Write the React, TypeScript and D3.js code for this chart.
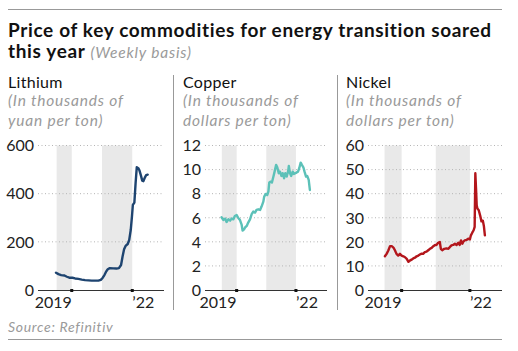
import { useEffect, useRef } from 'react';
import * as d3 from 'd3';

// decimal year, value
const LITHIUM: [number, number][] = [
  [2019.48, 72], [2019.56, 66], [2019.65, 62], [2019.76, 60], [2019.84, 55], [2019.92, 51],
  [2020.02, 51], [2020.11, 48], [2020.22, 46], [2020.33, 43], [2020.44, 41], [2020.55, 40],
  [2020.66, 39], [2020.77, 39], [2020.88, 39], [2020.96, 42], [2021.02, 50], [2021.08, 62],
  [2021.13, 75], [2021.19, 86], [2021.26, 91], [2021.37, 90], [2021.48, 89], [2021.56, 91],
  [2021.63, 104], [2021.68, 139], [2021.73, 169], [2021.78, 183], [2021.85, 191], [2021.9, 208],
  [2021.95, 249], [2021.99, 305], [2022.02, 353], [2022.07, 363], [2022.11, 443], [2022.15, 510],
  [2022.2, 506], [2022.24, 496], [2022.29, 474], [2022.33, 454], [2022.37, 452], [2022.42, 468],
  [2022.46, 477], [2022.51, 479],
];

const COPPER: [number, number][] = [
  [2019.49, 6.04], [2019.55, 5.82], [2019.61, 5.93], [2019.66, 5.65], [2019.72, 5.87], [2019.78, 5.76],
  [2019.83, 5.93], [2019.89, 5.87], [2019.94, 6.15], [2020.0, 6.23], [2020.06, 5.96], [2020.11, 5.82],
  [2020.17, 5.4], [2020.2, 4.93], [2020.25, 5.04], [2020.29, 5.21], [2020.34, 5.32], [2020.39, 5.6],
  [2020.45, 5.87], [2020.51, 6.32], [2020.56, 6.51], [2020.62, 6.43], [2020.67, 6.65], [2020.73, 6.7],
  [2020.79, 6.65], [2020.84, 6.93], [2020.9, 7.34], [2020.93, 7.76], [2020.98, 7.98], [2021.03, 7.89],
  [2021.07, 8.17], [2021.1, 8.92], [2021.15, 9.0], [2021.19, 8.92], [2021.24, 9.42], [2021.28, 9.83],
  [2021.33, 10.39], [2021.37, 10.19], [2021.42, 9.7], [2021.46, 9.83], [2021.51, 9.47], [2021.55, 9.7],
  [2021.6, 9.28], [2021.64, 9.7], [2021.69, 9.42], [2021.74, 9.92], [2021.76, 10.3], [2021.8, 9.7],
  [2021.84, 9.47], [2021.89, 9.83], [2021.93, 9.64], [2021.98, 9.7], [2022.02, 9.75], [2022.07, 9.83],
  [2022.11, 10.11], [2022.16, 10.58], [2022.2, 10.39], [2022.25, 10.19], [2022.29, 9.83], [2022.34, 9.42],
  [2022.38, 9.47], [2022.43, 9.14], [2022.47, 8.31],
];

const NICKEL: [number, number][] = [
  [2019.51, 14.0], [2019.56, 15.0], [2019.61, 16.4], [2019.66, 18.2], [2019.71, 18.2], [2019.76, 17.6],
  [2019.8, 16.6], [2019.85, 15.0], [2019.9, 14.3], [2019.95, 15.0], [2020.0, 14.3], [2020.05, 14.0],
  [2020.1, 13.6], [2020.15, 12.9], [2020.2, 11.7], [2020.24, 12.2], [2020.29, 12.6], [2020.34, 13.1],
  [2020.39, 13.4], [2020.44, 14.0], [2020.49, 14.3], [2020.54, 14.8], [2020.59, 15.1], [2020.63, 15.0],
  [2020.68, 15.7], [2020.73, 15.9], [2020.78, 16.5], [2020.83, 17.1], [2020.88, 17.5], [2020.93, 18.2],
  [2020.98, 18.7], [2021.02, 18.7], [2021.07, 19.6], [2021.12, 19.9], [2021.15, 17.1], [2021.19, 16.5],
  [2021.25, 17.1], [2021.31, 17.3], [2021.37, 17.1], [2021.41, 17.8], [2021.46, 18.5], [2021.51, 18.7],
  [2021.56, 19.2], [2021.61, 18.7], [2021.66, 19.6], [2021.7, 18.7], [2021.74, 20.6], [2021.78, 19.2],
  [2021.81, 20.1], [2021.85, 20.6], [2021.9, 20.8], [2021.95, 21.3], [2022.0, 21.0], [2022.03, 22.7],
  [2022.07, 23.8], [2022.11, 24.8], [2022.14, 26.2], [2022.16, 48.5], [2022.18, 42.2], [2022.2, 35.2],
  [2022.22, 33.8], [2022.26, 33.1], [2022.3, 31.0], [2022.34, 28.5], [2022.38, 28.8], [2022.41, 26.6],
  [2022.44, 22.7],
];

const SHADED_YEARS: [number, number][] = [[2019.5, 2020], [2021, 2022]];
const TICK_YEARS = [2020, 2022];

interface Panel {
  title: string;
  unit: string[];
  data: [number, number][];
  yTicks: number[];
  color: string;
  titleX: number;
  x0: number; // pixel for 2019
  x1: number; // pixel for 2023
  gridL: number;
  gridR: number;
}

const PANELS: Panel[] = [
  {
    title: 'Lithium', unit: ['(In thousands of', 'yuan per ton)'], data: LITHIUM,
    yTicks: [0, 200, 400, 600], color: '#1e4470', titleX: 8,
    x0: 41.5, x1: 162.5, gridL: 38, gridR: 164,
  },
  {
    title: 'Copper', unit: ['(In thousands of', 'dollars per ton)'], data: COPPER,
    yTicks: [0, 2, 4, 6, 8, 10, 12], color: '#5cc1b8', titleX: 183,
    x0: 207, x1: 325.6, gridL: 205, gridR: 327,
  },
  {
    title: 'Nickel', unit: ['(In thousands of', 'dollars per ton)'], data: NICKEL,
    yTicks: [0, 10, 20, 30, 40, 50, 60], color: '#b3161c', titleX: 346,
    x0: 367.5, x1: 504, gridL: 368, gridR: 502,
  },
];

const FONT = 'Lato, "Noto Sans", sans-serif';
const W = 518;
const H = 351;
const PLOT_TOP = 145.5;
const PLOT_BOTTOM = 290;

export default function App() {
  const svgRef = useRef<SVGSVGElement>(null);

  useEffect(() => {
    if (!svgRef.current) return;
    const svg = d3.select(svgRef.current);
    svg.selectAll('*').remove();
    svg.style('font-family', FONT);

    // rules
    svg.append('line').attr('x1', 8).attr('x2', 502).attr('y1', 9.5).attr('y2', 9.5)
      .attr('stroke', '#999').attr('stroke-width', 1);
    svg.append('line').attr('x1', 8).attr('x2', 502).attr('y1', 339.5).attr('y2', 339.5)
      .attr('stroke', '#999').attr('stroke-width', 1);

    // title
    svg.append('text').attr('x', 8).attr('y', 37)
      .attr('font-size', 19).attr('font-weight', 700).attr('fill', '#111')
      .attr('letter-spacing', 0.65)
      .text('Price of key commodities for energy transition soared');
    const t2 = svg.append('text').attr('x', 8).attr('y', 58)
      .attr('font-size', 19).attr('font-weight', 700).attr('fill', '#111')
      .attr('letter-spacing', 0.65);
    t2.append('tspan').text('this year ');
    t2.append('tspan').attr('font-weight', 400).attr('font-style', 'italic')
      .attr('font-size', 15.5).attr('letter-spacing', 0.8).attr('fill', '#9a9a9a').text('(Weekly basis)');

    // dividers
    [173.5, 337.5].forEach(x => {
      svg.append('line').attr('x1', x).attr('x2', x).attr('y1', 75).attr('y2', 310)
        .attr('stroke', '#999').attr('stroke-width', 1);
    });

    const y0 = PLOT_BOTTOM;

    PANELS.forEach(p => {
      const g = svg.append('g');
      g.append('text').attr('x', p.titleX).attr('y', 88)
        .attr('font-size', 16).attr('letter-spacing', 0.3).attr('fill', '#111').text(p.title);
      p.unit.forEach((u, i) => {
        g.append('text').attr('x', p.titleX).attr('y', 106 + i * 20)
          .attr('font-size', 15.5).attr('letter-spacing', 0.8)
          .attr('font-style', 'italic').attr('fill', '#9a9a9a').text(u);
      });

      const x = d3.scaleLinear().domain([2019, 2023]).range([p.x0, p.x1]);
      const yMax = p.yTicks[p.yTicks.length - 1];
      const y = d3.scaleLinear().domain([0, yMax]).range([PLOT_BOTTOM, PLOT_TOP]);

      // shaded years
      g.selectAll('rect.band').data(SHADED_YEARS).join('rect')
        .attr('class', 'band')
        .attr('x', d => x(d[0]))
        .attr('width', d => x(d[1]) - x(d[0]))
        .attr('y', y(yMax))
        .attr('height', y(0) - y(yMax))
        .attr('fill', '#e9e9e9');

      // grid
      g.selectAll('line.grid').data(p.yTicks.filter(t => t > 0)).join('line')
        .attr('class', 'grid')
        .attr('x1', p.gridL).attr('x2', p.gridR)
        .attr('y1', d => y(d)).attr('y2', d => y(d))
        .attr('stroke', '#b5b5b5').attr('stroke-width', 1)
        .attr('stroke-dasharray', '1,2.5');

      g.selectAll('text.ytick').data(p.yTicks).join('text')
        .attr('class', 'ytick')
        .attr('x', p.gridL - 4).attr('y', d => y(d))
        .attr('dy', '0.36em').attr('text-anchor', 'end')
        .attr('font-size', 16).attr('fill', '#222')
        .text(d => d);

      const line = d3.line<[number, number]>()
        .x(d => x(d[0])).y(d => y(d[1]))
        .curve(d3.curveLinear);
      g.append('path').datum(p.data)
        .attr('d', line)
        .attr('fill', 'none').attr('stroke', p.color)
        .attr('stroke-width', 2.4).attr('stroke-linejoin', 'round').attr('stroke-linecap', 'round');

      // baseline
      g.append('line').attr('x1', p.gridL).attr('x2', p.gridR).attr('y1', y0 + 0.5).attr('y2', y0 + 0.5)
        .attr('stroke', '#333').attr('stroke-width', 1);
      g.selectAll('rect.tick').data(TICK_YEARS).join('rect')
        .attr('class', 'tick')
        .attr('x', d => x(d) - 1.5).attr('y', y0 - 1)
        .attr('width', 3).attr('height', 3).attr('fill', '#111');

      g.append('text').attr('x', x(2020)).attr('y', 308)
        .attr('text-anchor', 'end').attr('font-size', 16).attr('fill', '#222').text('2019');
      g.append('text').attr('x', x(2022)).attr('y', 308)
        .attr('text-anchor', 'start').attr('font-size', 16).attr('fill', '#222').text('\u201922');
    });

    svg.append('text').attr('x', 8).attr('y', 332)
      .attr('font-size', 14).attr('letter-spacing', 0.7).attr('font-style', 'italic').attr('fill', '#9a9a9a')
      .text('Source: Refinitiv');
  }, []);

  return (
    <svg ref={svgRef} width={W} height={H}
      style={{ position: 'absolute', left: 0, top: 0, background: '#fff' }} />
  );
}
